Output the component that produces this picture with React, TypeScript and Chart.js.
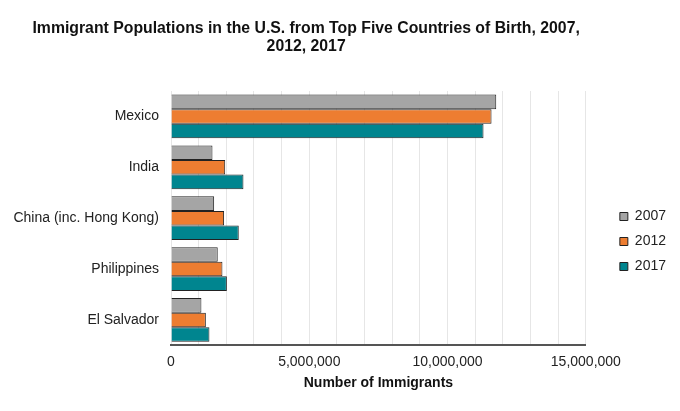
import React, { useEffect, useRef } from "react";
import { Chart, registerables } from "chart.js";

Chart.register(...registerables);

const countries = ["Mexico", "India", "China (inc. Hong Kong)", "Philippines", "El Salvador"];
const years = ["2007", "2012", "2017"];
const values2007 = [11760000, 1500000, 1560000, 1690000, 1100000];
const values2012 = [11590000, 1960000, 1920000, 1860000, 1260000];
const values2017 = [11300000, 2620000, 2450000, 2020000, 1390000];
const colors = ["#a5a5a5", "#ed7d31", "#00858f"];
const titleLines = [
  "Immigrant Populations in the U.S. from Top Five Countries of Birth, 2007,",
  "2012, 2017",
];
const xTitle = "Number of Immigrants";

const FONT = "Arial, 'Liberation Sans', sans-serif";

const titlePlugin = {
  id: "customTitle",
  afterDraw(chart: any) {
    const ctx = chart.ctx;
    ctx.save();
    ctx.font = `bold 15.8px ${FONT}`;
    ctx.fillStyle = "#111";
    ctx.textAlign = "center";
    ctx.textBaseline = "middle";
    const cx = chart.width * 0.449;
    titleLines.forEach((line, i) => {
      ctx.fillText(line, cx, 21 + i * 18);
    });
    ctx.restore();
  },
};

export default function App() {
  const ref = useRef<HTMLCanvasElement>(null);
  useEffect(() => {
    const data = [values2007, values2012, values2017];
    const chart = new Chart(ref.current!, {
      type: "bar",
      data: {
        labels: countries,
        datasets: years.map((y, i) => ({
          label: y,
          data: data[i],
          backgroundColor: colors[i],
          borderColor: "#222",
          borderWidth: 1,
          categoryPercentage: 0.86,
          barPercentage: 1,
          yAxisID: "y",
        })),
      },
      plugins: [titlePlugin],
      options: {
        indexAxis: "y",
        animation: false,
        responsive: true,
        maintainAspectRatio: false,
        layout: { padding: { top: 83, right: -4, left: 0, bottom: 11 } },
        plugins: {
          title: { display: false },
          tooltip: { enabled: false },
          legend: {
            position: "right",
            labels: {
              boxWidth: 8,
              boxHeight: 8,
              padding: 11,
              color: "#222",
              font: { family: FONT, size: 14 },
            },
          },
        },
        scales: {
          x: {
            min: 0,
            max: 15000000,
            grid: { color: "#e6e6e6", drawTicks: false },
            border: { display: true, color: "#555", width: 2 },
            ticks: {
              stepSize: 1000000,
              autoSkip: false,
              maxRotation: 0,
              padding: 8,
              color: "#222",
              font: { family: FONT, size: 14 },
              callback: (v: any) =>
                Number(v) % 5000000 === 0 ? Number(v).toLocaleString("en-US") : "",
            },
            title: {
              display: true,
              text: xTitle,
              color: "#111",
              font: { family: FONT, size: 14, weight: "bold" },
              padding: { top: -3, bottom: 0 },
            },
          },
          y: {
            grid: { display: false, drawTicks: false },
            border: { display: false },
            afterFit: (s: any) => {
              s.width = 163;
            },
            ticks: {
              padding: 12,
              color: "#222",
              font: { family: FONT, size: 14 },
            },
          },
          yRight: {
            type: "category",
            axis: "y",
            position: "right",
            labels: countries,
            grid: { display: false, drawTicks: false },
            border: { display: false },
            ticks: { display: false },
            afterFit: (s: any) => {
              s.width = 23;
            },
          },
        },
      },
    } as any);
    return () => chart.destroy();
  }, []);
  return (
    <div style={{ width: 664, height: 395, position: "relative" }}>
      <canvas ref={ref} />
    </div>
  );
}
